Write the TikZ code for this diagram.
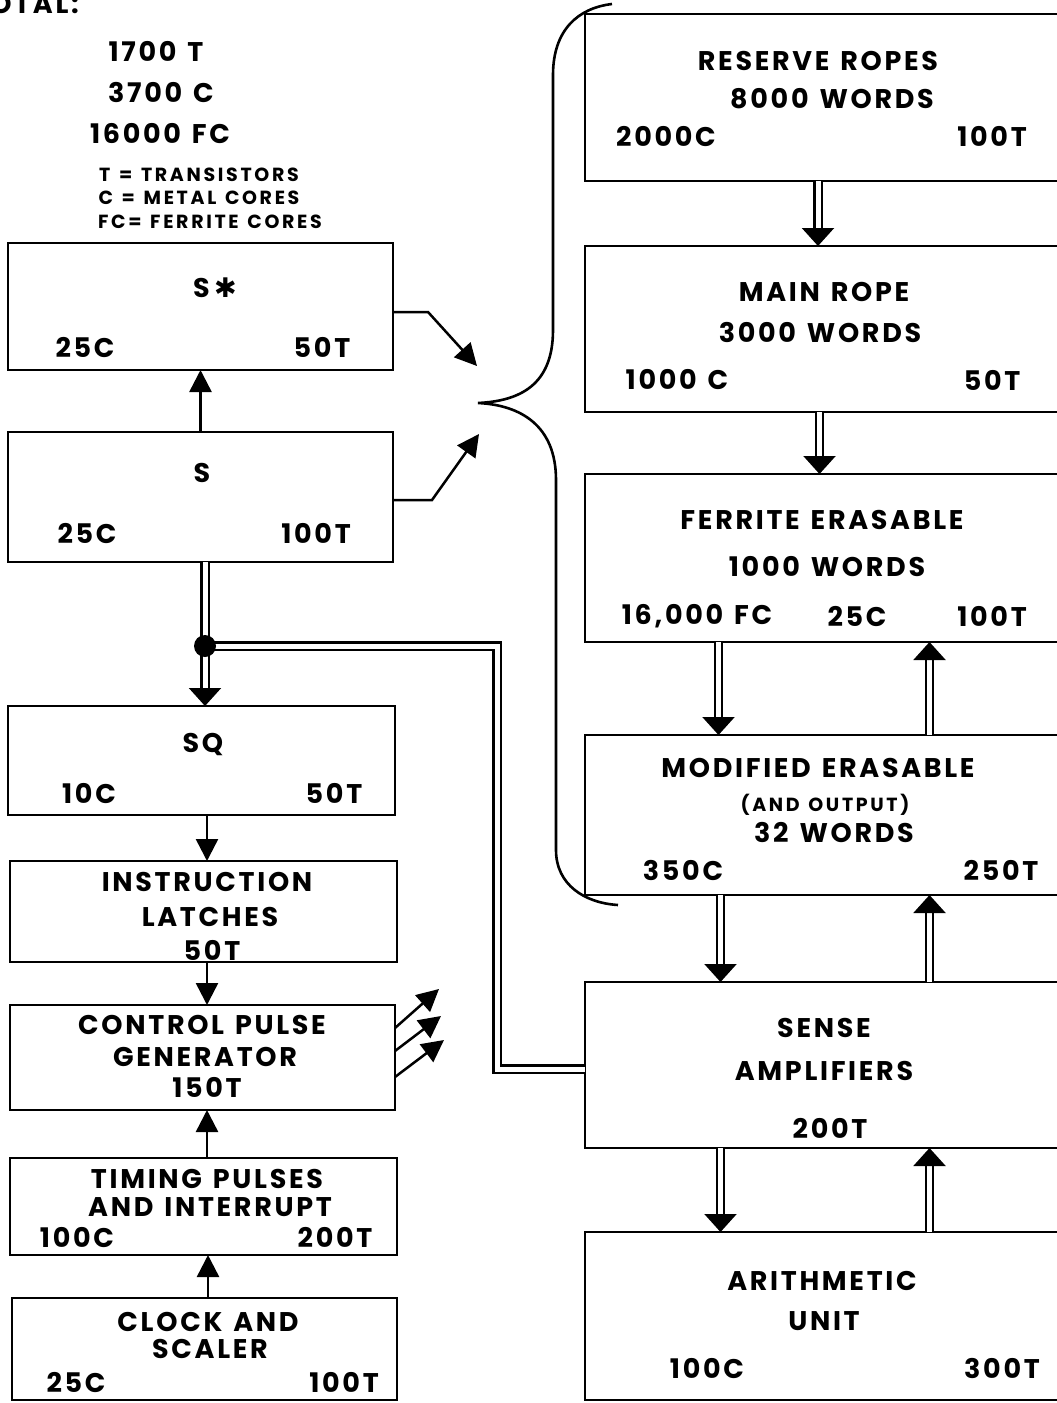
\documentclass[tikz,border=0pt]{standalone}
\usepackage{fontspec}
\setmainfont{Poppins}
\newfontfamily\lblfont{Poppins}[LetterSpace=10,WordSpace=1.3]
\newfontfamily\smlfont{Poppins}[LetterSpace=14,WordSpace=1.3]
\newfontfamily\symfont{DejaVu Sans}
\usetikzlibrary{arrows.meta}

\begin{document}
\begin{tikzpicture}[x=1pt,y=-1pt,line width=2.5pt,
  blk/.style={draw,inner sep=0pt,outer sep=0pt},
  lbl/.style={inner sep=0pt,font=\lblfont\fontsize{27}{30}\selectfont\bfseries},
  sml/.style={inner sep=0pt,font=\smlfont\fontsize{19}{22}\selectfont\bfseries},
  arr/.style={-{Triangle[width=22pt,length=22pt]}},
  dblline/.style={double,double distance=5pt,line width=2.2pt},
  dbl/.style={dblline,-{Triangle[width=32pt,length=18pt]}}]
  \useasboundingbox (0,0) rectangle (1057,1403);
  % totals
  \node[lbl,anchor=base east] (ttotal) at (80,13) {TOTAL:};
  \node[lbl] (tt) at (156,51) {1700 T};
  \node[lbl] (tc) at (161,92) {3700 C};
  \node[lbl] (tfc) at (160,134) {16000 FC};
  \node[sml] (keyt) at (199,175) {T = TRANSISTORS};
  \node[sml] (keyc) at (199,198) {C = METAL CORES};
  \node[sml] (keyfc) at (210,222) {FC= FERRITE CORES};
  % left column
  \node[blk,minimum width=385pt,minimum height=127pt] (sstar) at (200.5,306.5) {};
  \node[lbl] (sstarname) at (215,288) {S\,{\symfont ✱}};
  \node[lbl] (sstarc) at (85,347) {25C}; \node[lbl] (sstart) at (322,347) {50T};
  \node[blk,minimum width=385pt,minimum height=130pt] (s) at (200.5,497) {};
  \node[lbl] (sname) at (202,473) {S};
  \node[lbl] (sc) at (87,533) {25C}; \node[lbl] (st) at (316,533) {100T};
  \node[blk,minimum width=387pt,minimum height=109pt] (sq) at (201.5,760.5) {};
  \node[lbl] (sqname) at (203,744) {SQ};
  \node[lbl] (sqc) at (89,793) {10C}; \node[lbl] (sqt) at (334,793) {50T};
  \node[blk,minimum width=387pt,minimum height=101pt] (instr) at (203.5,911.5) {};
  \node[lbl] (instra) at (207,882) {INSTRUCTION};
  \node[lbl] (instrb) at (210,917) {LATCHES};
  \node[lbl] (instrt) at (212,950) {50T};
  \node[blk,minimum width=385pt,minimum height=105pt] (ctrl) at (202.5,1057.5) {};
  \node[lbl] (ctrla) at (202,1025) {CONTROL PULSE};
  \node[lbl] (ctrlb) at (205,1057) {GENERATOR};
  \node[lbl] (ctrlt) at (207,1087) {150T};
  \node[blk,minimum width=387pt,minimum height=97pt] (timing) at (203.5,1206.5) {};
  \node[lbl] (timinga) at (207,1179) {TIMING PULSES};
  \node[lbl] (timingb) at (210,1207) {AND INTERRUPT};
  \node[lbl] (timingc) at (77,1237) {100C}; \node[lbl] (timingt) at (335,1237) {200T};
  \node[blk,minimum width=385pt,minimum height=102pt] (clock) at (204.5,1349) {};
  \node[lbl] (clocka) at (208,1322) {CLOCK AND};
  \node[lbl] (clockb) at (210,1349) {SCALER};
  \node[lbl] (clockc) at (76,1382) {25C}; \node[lbl] (clockt) at (344,1382) {100T};
  % right column
  \node[blk,minimum width=473pt,minimum height=167pt] (reserve) at (821.5,97.5) {};
  \node[lbl] (reservea) at (818,61) {RESERVE ROPES};
  \node[lbl] (reserveb) at (832,99) {8000 WORDS};
  \node[lbl] (reservec) at (666,136) {2000C}; \node[lbl] (reservet) at (992,136) {100T};
  \node[blk,minimum width=473pt,minimum height=166pt] (main) at (821.5,329) {};
  \node[lbl] (maina) at (824,292) {MAIN ROPE};
  \node[lbl] (mainb) at (820,333) {3000 WORDS};
  \node[lbl] (mainc) at (677,380) {1000 C}; \node[lbl] (maint) at (992,380) {50T};
  \node[blk,minimum width=473pt,minimum height=168pt] (ferr) at (821.5,558) {};
  \node[lbl] (ferra) at (822,520) {FERRITE ERASABLE};
  \node[lbl] (ferrb) at (827,567) {1000 WORDS};
  \node[lbl] (ferrfc) at (697,616) {16,000 FC};
  \node[lbl] (ferrc) at (857,616) {25C}; \node[lbl] (ferrt) at (992,616) {100T};
  \node[blk,minimum width=473pt,minimum height=160pt] (mod) at (821.5,815) {};
  \node[lbl] (moda) at (818,768) {MODIFIED ERASABLE};
  \node[sml] (modb) at (825,805) {(AND OUTPUT)};
  \node[lbl] (modw) at (834,832) {32 WORDS};
  \node[lbl] (modc) at (683,870) {350C}; \node[lbl] (modt) at (1001,870) {250T};
  \node[blk,minimum width=473pt,minimum height=166pt] (sense) at (821.5,1065) {};
  \node[lbl] (sensea) at (824,1028) {SENSE};
  \node[lbl] (senseb) at (824,1071) {AMPLIFIERS};
  \node[lbl] (senset) at (830,1128) {200T};
  \node[blk,minimum width=473pt,minimum height=168pt] (arith) at (821.5,1316) {};
  \node[lbl] (aritha) at (822,1281) {ARITHMETIC};
  \node[lbl] (arithb) at (824,1321) {UNIT};
  \node[lbl] (arithc) at (707,1368) {100C}; \node[lbl] (aritht) at (1002,1368) {300T};
  % brace
  \draw[line width=2.6pt] (612,4) .. controls (578,8) and (553,30) .. (553,75) -- (553,330)
    .. controls (553,385) and (520,401) .. (478,403)
    .. controls (520,405) and (556,425) .. (556,480) -- (556,850)
    .. controls (556,885) and (585,903) .. (618,905);
  % single arrows
  \draw[arr] (s.north) -- (s.north |- sstar.south);
  \draw[arr] (sq.south -| 207,0) -- (instr.north -| 207,0);
  \draw[arr] (instr.south -| 207,0) -- (ctrl.north -| 207,0);
  \draw[arr] (timing.north -| 207,0) -- (ctrl.south -| 207,0);
  \draw[arr] (clock.north -| 208,0) -- (timing.south -| 208,0);
  \coordinate (bin1) at (477,366);
  \coordinate (bin2) at (479,434);
  \draw[arr] ([yshift=-5.5pt]sstar.east) -- ++(35,0) -- (bin1);
  \draw[arr] ([yshift=-3pt]s.east) -- ++(39,0) -- (bin2);
  \coordinate (out1) at (439,989);
  \coordinate (out2) at (441,1016);
  \coordinate (out3) at (444,1040);
  \draw[arr] ([yshift=29.5pt]ctrl.east) -- (out1);
  \draw[arr] ([yshift=6.5pt]ctrl.east) -- (out2);
  \draw[arr] ([yshift=-19.5pt]ctrl.east) -- (out3);
  % double arrows
  \coordinate (dot) at (205,646);
  \draw[dbl] (s.south -| dot) -- (sq.north -| dot);
  \draw[dblline] (dot) -- (497,646) |- ([yshift=-4pt]sense.west);
  \fill (dot) circle (11pt);
  \draw[dbl] (reserve.south -| 818,0) -- (main.north -| 818,0);
  \draw[dbl] ([xshift=-2pt]main.south) -- ([xshift=-2pt]ferr.north);
  \draw[dbl] ([xshift=-103pt]ferr.south) -- ([xshift=-103pt]mod.north);
  \draw[dbl] ([xshift=108pt]mod.north) -- ([xshift=108pt]ferr.south);
  \draw[dbl] ([xshift=-101pt]mod.south) -- ([xshift=-101pt]sense.north);
  \draw[dbl] ([xshift=108pt]sense.north) -- ([xshift=108pt]mod.south);
  \draw[dbl] ([xshift=-101pt]sense.south) -- ([xshift=-101pt]arith.north);
  \draw[dbl] ([xshift=108pt]arith.north) -- ([xshift=108pt]sense.south);
\end{tikzpicture}
\end{document}
